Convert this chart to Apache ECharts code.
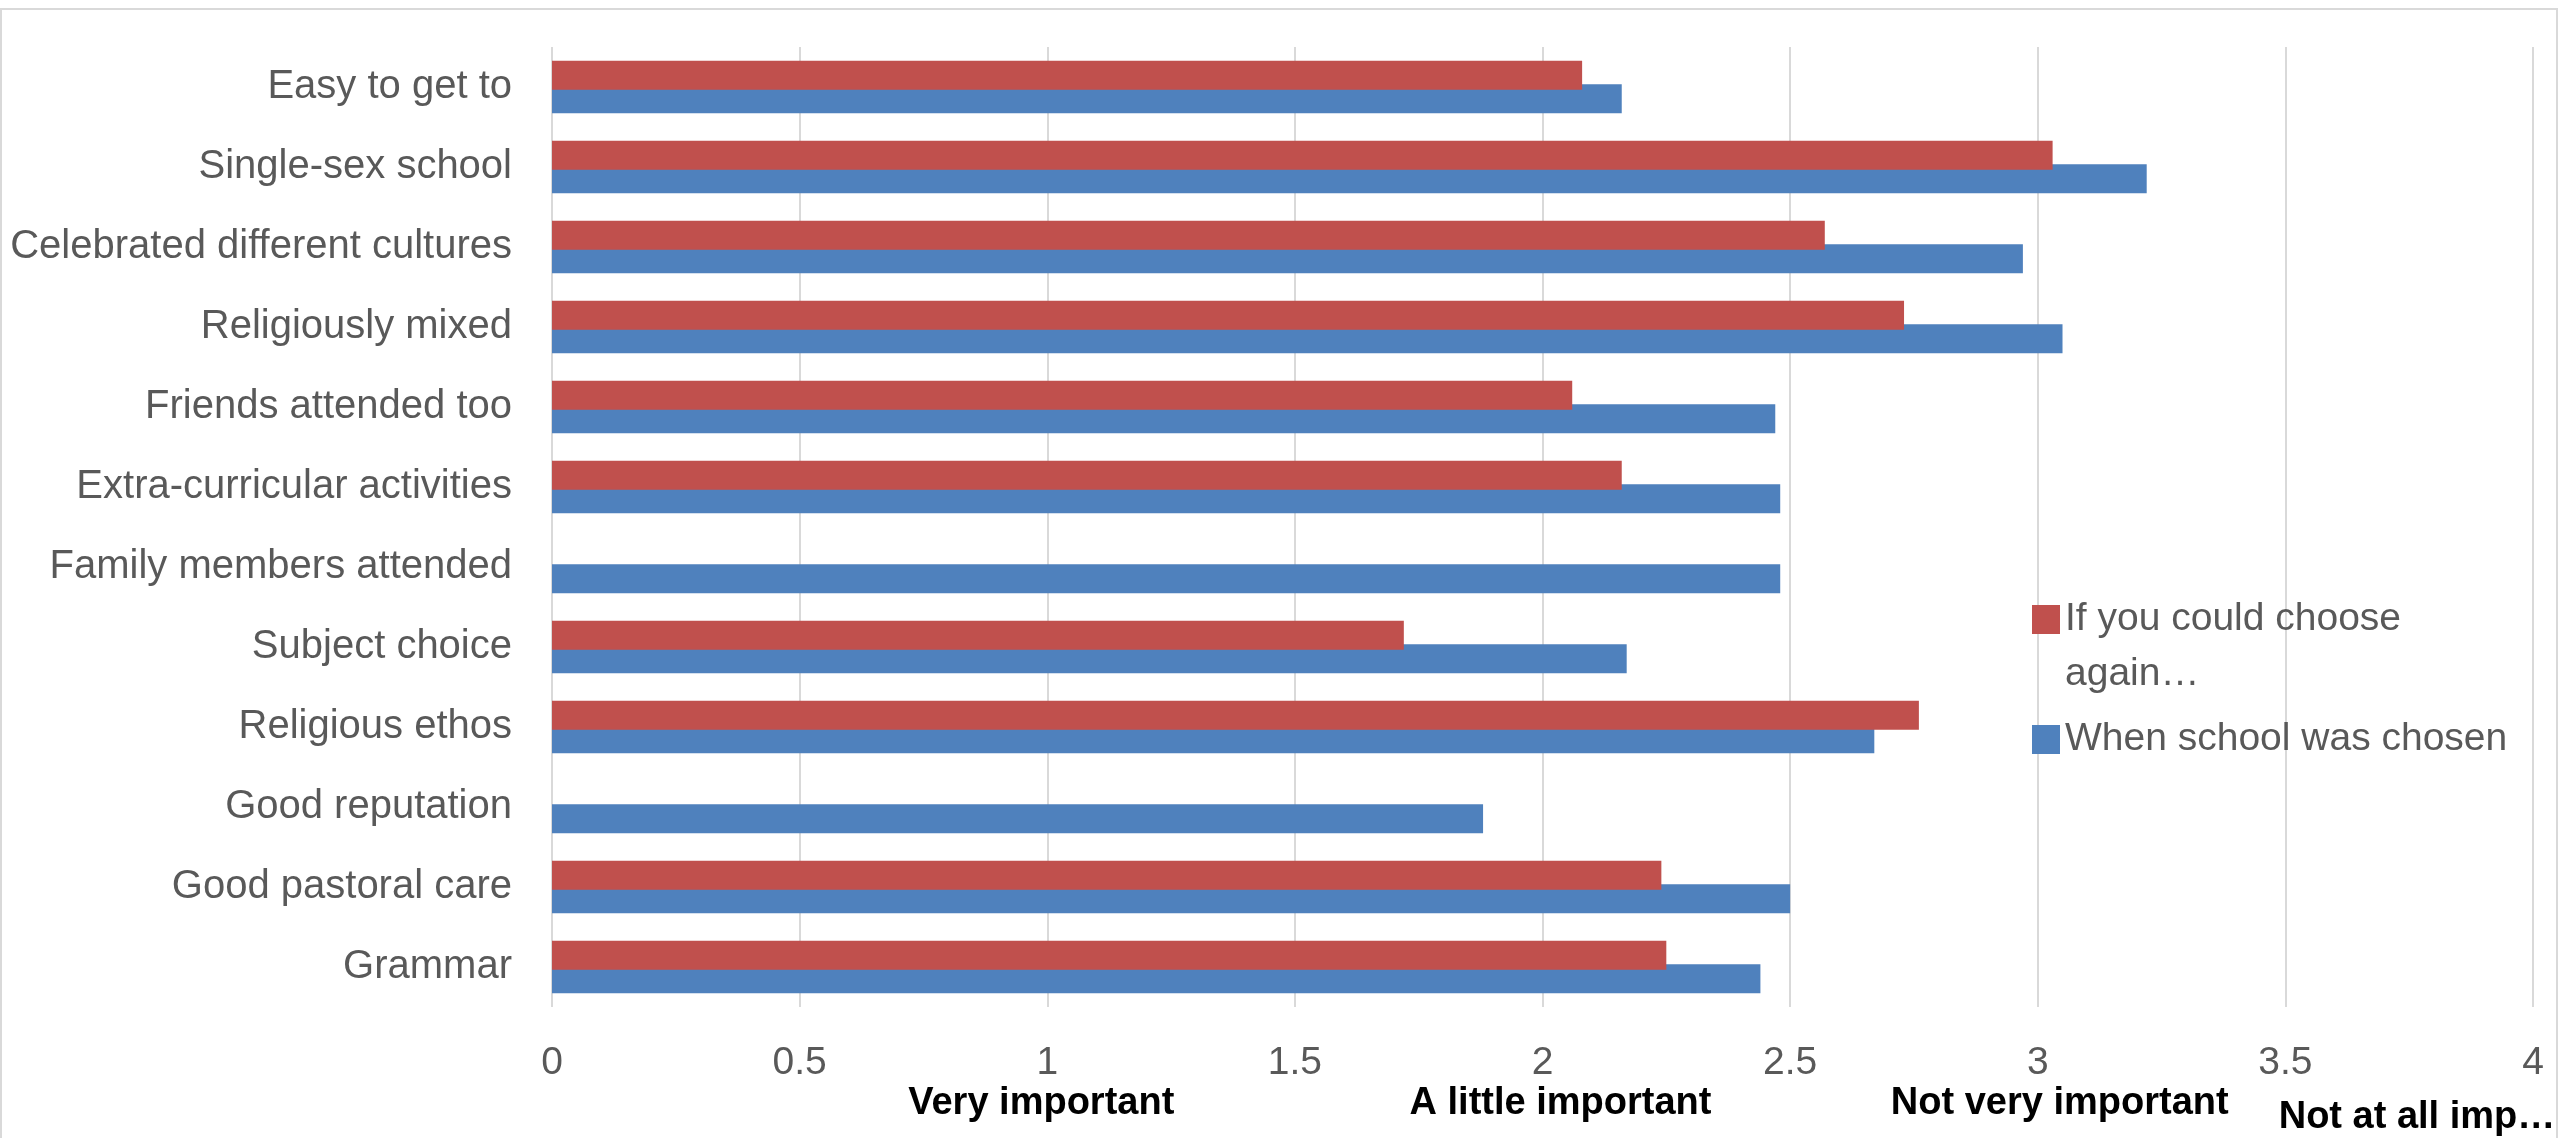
<!DOCTYPE html>
<html><head><meta charset="utf-8">
<script src="https://cdn.jsdelivr.net/npm/echarts@6/dist/echarts.min.js"></script>
<style>html,body{margin:0;padding:0;background:#fff}#c{width:2560px;height:1138px}</style>
</head><body><div id="c"></div>
<script>
const categories = ['Easy to get to', 'Single-sex school', 'Celebrated different cultures', 'Religiously mixed',
  'Friends attended too', 'Extra-curricular activities', 'Family members attended', 'Subject choice',
  'Religious ethos', 'Good reputation', 'Good pastoral care', 'Grammar'];
const seriesNames = ['If you could choose again…', 'When school was chosen'];
const chooseAgain = [2.08, 3.03, 2.57, 2.73, 2.06, 2.16, null, 1.72, 2.76, null, 2.24, 2.25];
const whenChosen  = [2.16, 3.22, 2.97, 3.05, 2.47, 2.48, 2.48, 2.17, 2.67, 1.88, 2.50, 2.44];
const importanceLabels = ['', 'Very important', 'A little important', 'Not very important', 'Not at all imp…'];

const FONT = 'Liberation Sans';
const boldLbl = {color: '#000', fontSize: 38, fontWeight: 'bold', fontFamily: FONT};
const chart = echarts.init(document.getElementById('c'), null, {renderer: 'canvas'});
chart.setOption({
  animation: false,
  backgroundColor: '#fff',
  textStyle: {fontFamily: FONT},
  graphic: [{type: 'rect', shape: {x: 1, y: 9, width: 2556, height: 1140}, style: {fill: 'none', stroke: '#d9d9d9', lineWidth: 2}, silent: true}],
  grid: {left: 552, right: 27, top: 47, bottom: 131, containLabel: false},
  legend: {
    data: seriesNames,
    orient: 'vertical',
    left: 2032, top: 537, padding: 0,
    icon: 'rect', itemWidth: 28, itemHeight: 29, itemGap: 10,
    selectedMode: false,
    formatter: n => n === seriesNames[0] ? '\nIf you could choose\nagain…' : n,
    textStyle: {color: '#595959', fontSize: 39, lineHeight: 55, fontFamily: FONT}
  },
  xAxis: [{
    type: 'value', min: 0, max: 4, interval: 0.5, position: 'bottom',
    axisLine: {show: false}, axisTick: {show: false},
    splitLine: {show: true, lineStyle: {color: '#d9d9d9', width: 2}},
    axisLabel: {color: '#595959', fontSize: 39, margin: 37, showMinLabel: true, showMaxLabel: true}
  }, {
    type: 'value', min: 0, max: 4, interval: 1, position: 'bottom',
    axisLine: {show: false}, axisTick: {show: false}, splitLine: {show: false},
    axisLabel: {
      margin: 78, showMinLabel: true, showMaxLabel: true,
      formatter: v => '{l' + v + '|' + (importanceLabels[v] || '') + '}',
      rich: {
        l0: boldLbl,
        l1: Object.assign({padding: [0, 12, 0, 0]}, boldLbl),
        l2: Object.assign({padding: [0, 0, 0, 36]}, boldLbl),
        l3: Object.assign({padding: [0, 0, 0, 44]}, boldLbl),
        l4: Object.assign({padding: [14, 232, 0, 0]}, boldLbl)
      }
    }
  }],
  yAxis: {
    type: 'category', data: categories, inverse: true,
    axisLine: {show: false}, axisTick: {show: false},
    axisLabel: {color: '#595959', fontSize: 40, margin: 40, padding: [4, 0, 0, 0]}
  },
  series: [{
    name: seriesNames[0], type: 'bar', data: chooseAgain, xAxisIndex: 0,
    barWidth: 29, barGap: '-19%', z: 3,
    itemStyle: {color: '#C0504D'}
  }, {
    name: seriesNames[1], type: 'bar', data: whenChosen, xAxisIndex: 0,
    barWidth: 29, barGap: '-19%', z: 2,
    itemStyle: {color: '#4F81BD'}
  }]
});
</script></body></html>
